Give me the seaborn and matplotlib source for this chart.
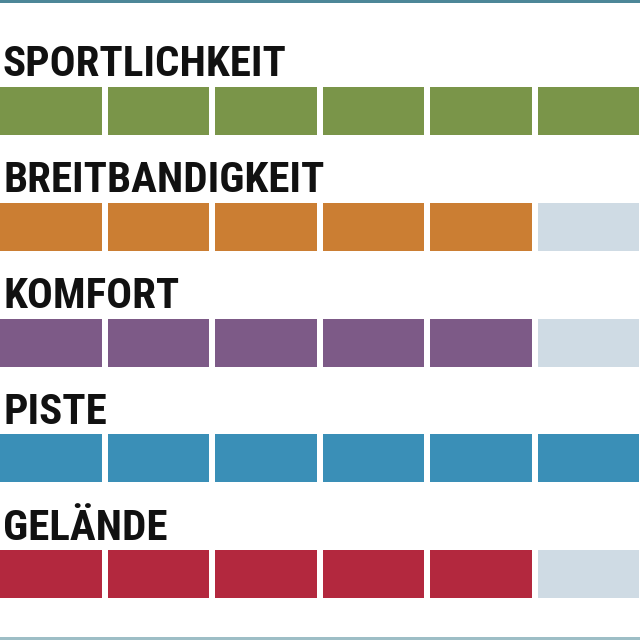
import numpy as np
import pandas as pd
import seaborn as sns
import matplotlib
matplotlib.use("Agg")
import matplotlib.pyplot as plt
from matplotlib.colors import ListedColormap
from matplotlib.patches import Rectangle

categories = ["SPORTLICHKEIT", "BREITBANDIGKEIT", "KOMFORT", "PISTE", "GELÄNDE"]
scores = [6, 5, 5, 6, 5]
max_score = 6
colors = ["#7a9549", "#cb7e33", "#7d5a87", "#3a8fb7", "#b3283e"]
empty_color = "#cfdbe4"

sns.set_theme(style="white")
plt.rcParams["font.family"] = ["DejaVu Sans Condensed", "Roboto Condensed", "DejaVu Sans"]

W = H = 640
fig = plt.figure(figsize=(6.4, 6.4), dpi=100)
fig.patch.set_facecolor("white")

gap = 6
bar_top0 = 87
pitch = 115.75
bar_h = 48
cell_pitch = 107.5

for i, (cat, s, c) in enumerate(zip(categories, scores, colors)):
    top = bar_top0 + pitch * i
    left = -gap / 2
    width = cell_pitch * max_score
    y0 = H - (top + bar_h) - gap / 2
    ax = fig.add_axes([left / W, y0 / H, width / W, (bar_h + gap) / H])
    df = pd.DataFrame([[1 if j < s else 0 for j in range(max_score)]],
                      index=[cat], columns=list(range(1, max_score + 1)))
    sns.heatmap(df, ax=ax, cmap=ListedColormap([empty_color, c]), vmin=0, vmax=1,
                cbar=False, linewidths=gap * 0.72, linecolor="white",
                xticklabels=False, yticklabels=False)
    ax.set_xlabel("")
    ax.set_ylabel("")
    fig.text(3 / W, 1 - (top - 10.5) / H, cat, fontsize=31, fontweight="bold",
             fontstretch="condensed", color="#111111", ha="left", va="baseline")

fig.add_artist(Rectangle((0, 1 - 3 / H), 1, 3 / H, transform=fig.transFigure,
                         facecolor="#4d8798", edgecolor="none"))
fig.add_artist(Rectangle((0, 0), 1, 3 / H, transform=fig.transFigure,
                         facecolor="#9dbec6", edgecolor="none"))

fig.savefig("out.png", dpi=100, facecolor="white")
